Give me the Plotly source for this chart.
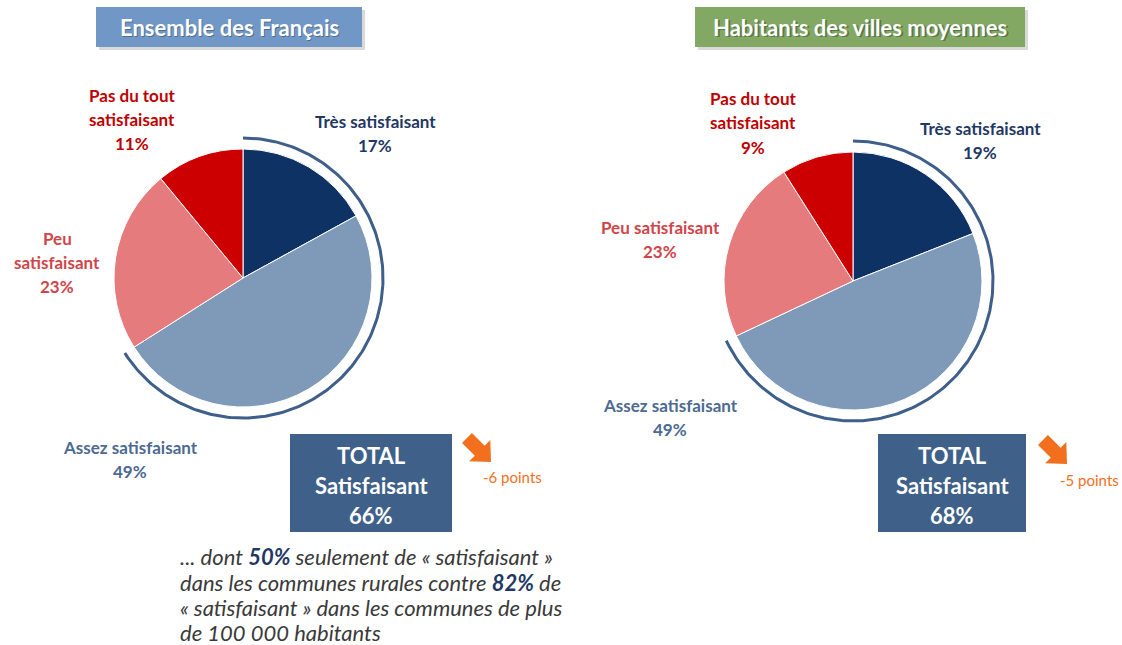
import numpy as np
import plotly.graph_objects as go

W, H = 1122, 645

categories = ["Très satisfaisant", "Assez satisfaisant", "Peu satisfaisant", "Pas du tout satisfaisant"]
values_france = [17, 49, 23, 11]
values_villes = [19, 49, 23, 9]
titles = ["Ensemble des Français", "Habitants des villes moyennes"]
totals = [66, 68]
evolutions = [-6, -5]
note_lines = [
    "... dont <b><span style='color:#1f3864'>50%</span></b> seulement de « satisfaisant »",
    "dans les communes rurales contre <b><span style='color:#1f3864'>82%</span></b> de",
    "« satisfaisant » dans les communes de plus",
    "de 100 000 habitants",
]

slice_colors = ["#0d3263", "#7f9ab8", "#e57b7d", "#cc0000"]
label_colors = ["#1f3864", "#4d6a92", "#d0454a", "#c00000"]

FONT = "Lato"

fig = go.Figure()

def add_pie(vals, cx, cy, r):
    fig.add_trace(go.Pie(
        labels=categories, values=vals, sort=False, direction="clockwise",
        marker=dict(colors=slice_colors, line=dict(color="white", width=1)),
        textinfo="none", hoverinfo="label+percent", showlegend=False,
        domain=dict(x=[(cx - r) / W, (cx + r) / W], y=[1 - (cy + r) / H, 1 - (cy - r) / H]),
    ))

def add_arc(vals, cx, cy, R):
    share = (vals[0] + vals[1]) / sum(vals)
    th = np.radians(np.linspace(0, share * 360, 200))
    fig.add_trace(go.Scatter(x=cx + R * np.sin(th), y=cy - R * np.cos(th), mode="lines",
                             line=dict(color="#3e5f8a", width=3), hoverinfo="skip", showlegend=False))

pies = [(values_france, 243, 278, 129), (values_villes, 853, 281, 129)]
for vals, cx, cy, r in pies:
    add_pie(vals, cx, cy, r)
    add_arc(vals, cx, cy, r + 11)

def lines(x, ys, texts, color, size=17, bold=True, xanchor="center", italic=False):
    for y, t in zip(ys, texts):
        if bold:
            t = f"<b>{t}</b>"
        if italic:
            t = f"<i>{t}</i>"
        fig.add_annotation(x=x, y=y, xref="x", yref="y", text=t, showarrow=False,
                           font=dict(family=FONT, size=size, color=color),
                           xanchor=xanchor, yanchor="middle")

def pct(v):
    return f"{v}%"

# Pie 1 labels
lines(132, [95, 119, 143], ["Pas du tout", "satisfaisant", pct(values_france[3])], label_colors[3])
lines(57, [238, 262, 286], ["Peu", "satisfaisant", pct(values_france[2])], label_colors[2])
lines(375, [121, 145], [categories[0], pct(values_france[0])], label_colors[0])
lines(130, [447, 471], [categories[1], pct(values_france[1])], label_colors[1])
# Pie 2 labels
lines(753, [98, 122, 147], ["Pas du tout", "satisfaisant", pct(values_villes[3])], label_colors[3])
lines(660, [227, 251], [categories[2], pct(values_villes[2])], label_colors[2])
lines(980, [128, 152], [categories[0], pct(values_villes[0])], label_colors[0])
lines(670, [405, 429], [categories[1], pct(values_villes[1])], label_colors[1])

shapes = []
# title boxes
for (x0, x1), col, t in [((96, 362), "#7097c6", titles[0]), ((695, 1025), "#82a864", titles[1])]:
    shapes.append(dict(type="rect", xref="x", yref="y", x0=x0 + 3, x1=x1 + 3, y0=10, y1=50,
                       fillcolor="rgba(0,0,0,0.15)", line=dict(width=0), layer="below"))
    shapes.append(dict(type="rect", xref="x", yref="y", x0=x0, x1=x1, y0=7, y1=47,
                       fillcolor=col, line=dict(width=0), layer="below"))
    fig.add_annotation(x=(x0 + x1) / 2 + 1.5, y=28.5, xref="x", yref="y", text=f"<b>{t}</b>",
                       showarrow=False, font=dict(family=FONT, size=22, color="rgba(0,0,0,0.3)"))
    fig.add_annotation(x=(x0 + x1) / 2, y=27, xref="x", yref="y", text=f"<b>{t}</b>",
                       showarrow=False, font=dict(family=FONT, size=22, color="white"))

# TOTAL boxes + arrows
boxes = [((290, 452), totals[0], evolutions[0], (479, 450), (512, 477)),
         ((878, 1026), totals[1], evolutions[1], (1055, 452), (1089, 480))]
for (x0, x1), tot, evo, (ax, ay), (tx, ty) in boxes:
    shapes.append(dict(type="rect", xref="x", yref="y", x0=x0, x1=x1, y0=434, y1=532,
                       fillcolor="#3e6089", line=dict(width=0), layer="below"))
    lines((x0 + x1) / 2, [455, 485, 515], ["TOTAL", "Satisfaisant", f"{tot}%"], "white", size=22)
    # block arrow pointing down-right
    c, s = np.cos(np.pi / 4), np.sin(np.pi / 4)
    pts = [(-17, -7), (1, -7), (1, -15), (17, 0), (1, 15), (1, 7), (-17, 7)]
    path = "M " + " L ".join(f"{ax + px * c - py * s:.1f},{ay + px * s + py * c:.1f}" for px, py in pts) + " Z"
    shapes.append(dict(type="path", xref="x", yref="y", path=path, fillcolor="#f26f1d",
                       line=dict(width=0), layer="above"))
    lines(tx, [ty], [f"{evo} points"], "#f26f1d", size=15, bold=False)

lines(178, [556, 582, 607, 632], note_lines, "#3a3a3a", size=22, bold=False, xanchor="left", italic=True)

fig.update_layout(
    width=W, height=H, margin=dict(l=0, r=0, t=0, b=0),
    paper_bgcolor="white", plot_bgcolor="white", shapes=shapes,
    xaxis=dict(range=[0, W], visible=False, fixedrange=True),
    yaxis=dict(range=[H, 0], visible=False, fixedrange=True),
    showlegend=False,
)
fig.write_html("out.html", config={"displayModeBar": False},
               post_script="document.body.style.margin='0';document.body.style.overflow='hidden';")
